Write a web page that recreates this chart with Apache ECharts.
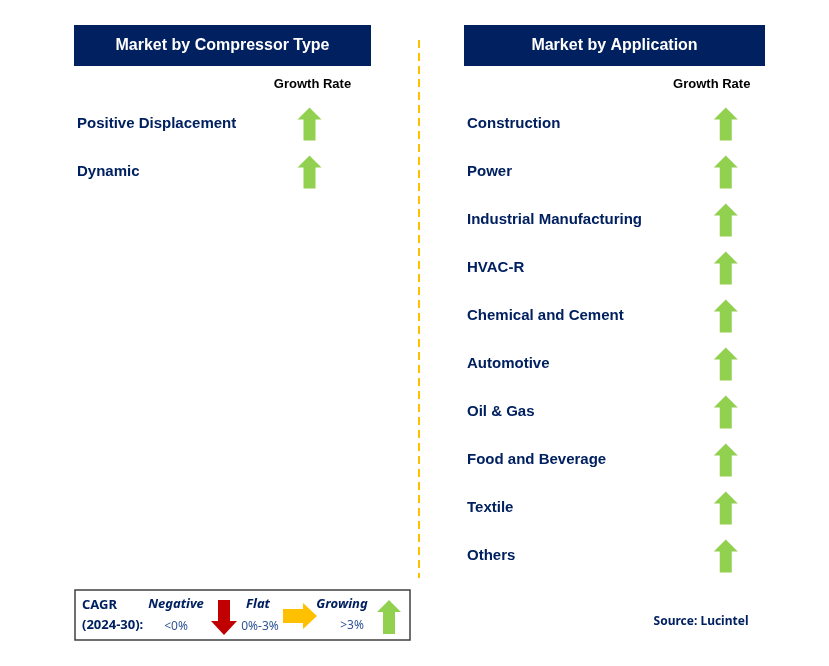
<!DOCTYPE html>
<html><head><meta charset="utf-8">
<script src="https://cdn.jsdelivr.net/npm/echarts@6/dist/echarts.min.js"></script>
<style>html,body{margin:0;padding:0;background:#fff}#c{width:829px;height:666px}</style>
</head><body><div id="c"></div>
<script>
const compressorTypes = ['Positive Displacement', 'Dynamic'];
const compressorGrowth = ['up', 'up'];
const applications = ['Construction', 'Power', 'Industrial Manufacturing', 'HVAC-R', 'Chemical and Cement', 'Automotive', 'Oil & Gas', 'Food and Beverage', 'Textile', 'Others'];
const applicationGrowth = ['up', 'up', 'up', 'up', 'up', 'up', 'up', 'up', 'up', 'up'];
const columnLabels = ['', 'Growth Rate'];

const NAVY = '#002060';
const ARROWS = {
  up: {path: 'path://M12,0 L24,12 L18,12 L18,33 L6,33 L6,12 L0,12 Z', color: '#92D050', size: [24, 33]},
  flat: {path: 'path://M0,6 L21,6 L21,0 L33,12 L21,24 L21,18 L0,18 Z', color: '#FFC000', size: [33, 24]},
  down: {path: 'path://M6,0 L18,0 L18,21 L24,21 L12,33 L0,21 L6,21 Z', color: '#C00000', size: [24, 33]}
};

const chart = echarts.init(document.getElementById('c'), null, {renderer: 'canvas'});

function panel(idx, cats, growth, left, width, headPad) {
  const grid = {left: left, top: 100, width: width, height: 48 * cats.length};
  const xAxis = {
    gridIndex: idx, type: 'category', data: columnLabels, position: 'top',
    axisLine: {show: false}, axisTick: {show: false}, splitLine: {show: false},
    axisLabel: {margin: 9, padding: headPad, color: '#000', fontWeight: 'bold', fontSize: 13, fontFamily: 'Liberation Sans, Arial'}
  };
  const yAxis = {
    gridIndex: idx, type: 'category', data: cats, inverse: true,
    axisLine: {show: false}, axisTick: {show: false}, splitLine: {show: false},
    axisLabel: {inside: true, margin: 0, padding: [6, 0, 0, 0], color: NAVY, fontWeight: 'bold', fontSize: 15, fontFamily: 'Liberation Sans, Arial'}
  };
  const series = {
    type: 'scatter', xAxisIndex: idx, yAxisIndex: idx, silent: true,
    data: cats.map((c, i) => {
      const a = ARROWS[growth[i]];
      return {value: ['Growth Rate', c], symbol: a.path, symbolSize: a.size, itemStyle: {color: a.color, opacity: 1}};
    })
  };
  return {grid, xAxis, yAxis, series};
}

const p1 = panel(0, compressorTypes, compressorGrowth, 77, 310, [0, 0, 0, 6]);
const p2 = panel(1, applications, applicationGrowth, 467, 345, [0, 28, 0, 0]);

function legendText(x, y, text, opts) {
  return {type: 'text', x: x, y: y, style: Object.assign({text: text, fill: NAVY, fontSize: 13, fontFamily: 'Noto Sans, Open Sans, sans-serif', align: 'center', verticalAlign: 'middle'}, opts || {})};
}

chart.setOption({
  animation: false,
  grid: [p1.grid, p2.grid],
  xAxis: [p1.xAxis, p2.xAxis],
  yAxis: [p1.yAxis, p2.yAxis],
  series: [p1.series, p2.series],
  graphic: [
    {type: 'rect', shape: {x: 74, y: 25, width: 297, height: 41}, style: {fill: NAVY}},
    {type: 'text', x: 222.5, y: 45.5, style: {text: 'Market by Compressor Type', fill: '#fff', fontSize: 16, fontWeight: 'bold', fontFamily: 'Liberation Sans, Arial', align: 'center', verticalAlign: 'middle'}},
    {type: 'rect', shape: {x: 464, y: 25, width: 301, height: 41}, style: {fill: NAVY}},
    {type: 'text', x: 614.5, y: 45.5, style: {text: 'Market by Application', fill: '#fff', fontSize: 16, fontWeight: 'bold', fontFamily: 'Liberation Sans, Arial', align: 'center', verticalAlign: 'middle'}},
    {type: 'line', shape: {x1: 419, y1: 40, x2: 419, y2: 578}, style: {stroke: '#FFC000', lineWidth: 2, lineDash: [8, 5]}},
    {type: 'rect', shape: {x: 75, y: 590, width: 335, height: 50}, style: {fill: '#fff', stroke: '#404040', lineWidth: 1.5}},
    legendText(82, 605, 'CAGR', {align: 'left', fontWeight: 'bold'}),
    legendText(82, 625, '(2024-30):', {align: 'left', fontWeight: 'bold'}),
    legendText(176, 604, 'Negative', {fontWeight: 'bold', fontStyle: 'italic'}),
    legendText(176, 627, '<0%', {fill: '#2F5597', fontSize: 12}),
    {type: 'polygon', shape: {points: [[218,600],[230,600],[230,621],[237,621],[224,635],[211,621],[218,621]]}, style: {fill: '#C00000'}},
    legendText(258, 604, 'Flat', {fontWeight: 'bold', fontStyle: 'italic'}),
    legendText(260, 627, '0%-3%', {fill: '#2F5597', fontSize: 12}),
    {type: 'polygon', shape: {points: [[283,609],[303,609],[303,603],[317,616],[303,629],[303,623],[283,623]]}, style: {fill: '#FFC000'}},
    legendText(342, 604, 'Growing', {fontWeight: 'bold', fontStyle: 'italic'}),
    legendText(352, 626, '>3%', {fill: '#2F5597', fontSize: 12}),
    {type: 'polygon', shape: {points: [[389,600],[401,612],[395,612],[395,634],[383,634],[383,612],[377,612]]}, style: {fill: '#92D050'}},
    legendText(701, 622, 'Source: Lucintel', {fontWeight: 'bold', fontSize: 12})
  ]
});
</script></body></html>
